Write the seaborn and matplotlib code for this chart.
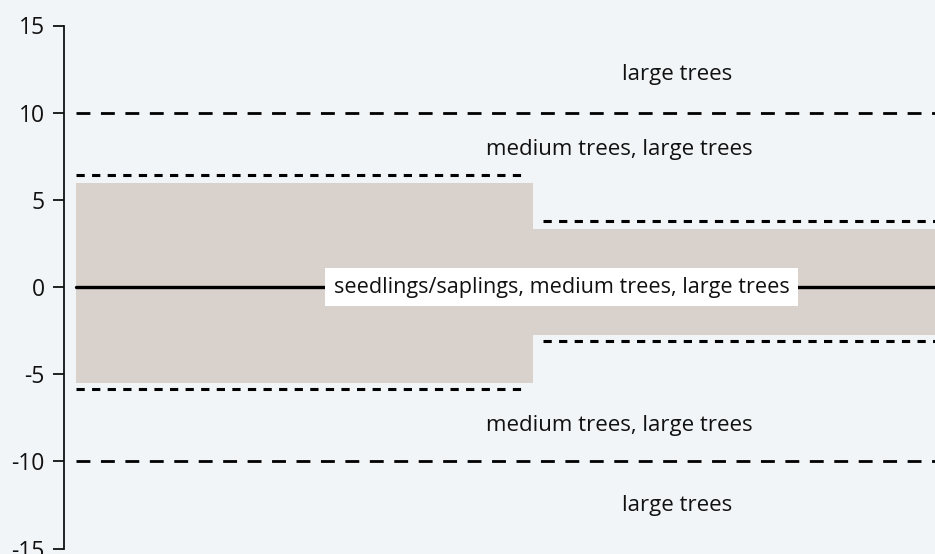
import numpy as np
import pandas as pd
import seaborn as sns
import matplotlib.pyplot as plt

sns.set_style("ticks")
plt.rcParams['font.family'] = ['Open Sans', 'DejaVu Sans']

# two periods along x, each with a shaded band and a dotted bound
seg_start = [0.0, 1.0]
seg_end = [1.0, 2.0]
band_low = [-5.5, -2.75]
band_high = [5.95, 3.35]
bound_low = [-5.85, -3.1]
bound_high = [6.4, 3.8]
thresholds = [10, -10]
centre = 0
yticks = [-15, -10, -5, 0, 5, 10, 15]

zone_labels = ["large trees", "medium trees, large trees",
               "medium trees, large trees", "large trees"]
zone_x = [1.315, 1.19, 1.19, 1.315]
zone_y = [12.2, 7.9, -7.95, -12.55]
centre_label = "seedlings/saplings, medium trees, large trees"
centre_x = 1.063

bg = "#f2f5f8"
fill = "#d9d1cc"

fig = plt.figure(figsize=(9.35, 5.54), dpi=100, facecolor=bg)
ax = fig.add_axes([64/935, 5.5/554, 1 - 64/935, 523/554])
ax.set_facecolor(bg)

# shaded bands
for x0, x1, lo, hi in zip(seg_start, seg_end, band_low, band_high):
    ax.fill_between([x0, x1], lo, hi, color=fill, lw=0, zorder=1)

# dotted bounds (little gap at the split)
inset = 0.015
for i, (x0, x1) in enumerate(zip(seg_start, seg_end)):
    a = x0 + (inset * 1.5 if i > 0 else 0)
    b = x1 - (inset if i == 0 else 0)
    for v in (bound_low[i], bound_high[i]):
        df = pd.DataFrame({"x": [a, b], "y": [v, v]})
        sns.lineplot(data=df, x="x", y="y", color="black", lw=2.2,
                     dashes=False, ax=ax, zorder=2)
        ax.lines[-1].set_dashes([2.7, 2.4])

# dashed thresholds
for t in thresholds:
    df = pd.DataFrame({"x": [seg_start[0], seg_end[-1]], "y": [t, t]})
    sns.lineplot(data=df, x="x", y="y", color="black", lw=2.0, ax=ax, zorder=2)
    ax.lines[-1].set_dashes([5, 3.8])

# solid centre line
df = pd.DataFrame({"x": [seg_start[0], seg_end[-1]], "y": [centre, centre]})
sns.lineplot(data=df, x="x", y="y", color="black", lw=2.4, ax=ax, zorder=2)

for lab, x, y in zip(zone_labels, zone_x, zone_y):
    ax.text(x, y, lab, ha="center", va="center", fontsize=16, color="#111111")

ax.text(centre_x, centre, centre_label, ha="center", va="center",
        fontsize=15.6, color="#111111", zorder=3,
        bbox=dict(boxstyle="square,pad=0.4", fc="white", ec="none"))

ax.set_xlim(-0.026, 1.88)
ax.set_ylim(-15, 15)
ax.set_yticks(yticks)
ax.set_yticklabels([str(v) for v in yticks])
ax.tick_params(axis="y", length=8, width=1.3, pad=6, labelsize=16.5,
               colors="#111111", direction="out")
ax.set_xticks([])
ax.set_xlabel("")
ax.set_ylabel("")
for s in ["top", "right", "bottom"]:
    ax.spines[s].set_visible(False)
ax.spines["left"].set_linewidth(1.3)
ax.spines["left"].set_color("#111111")

fig.savefig("out.png", dpi=100, facecolor=bg)
